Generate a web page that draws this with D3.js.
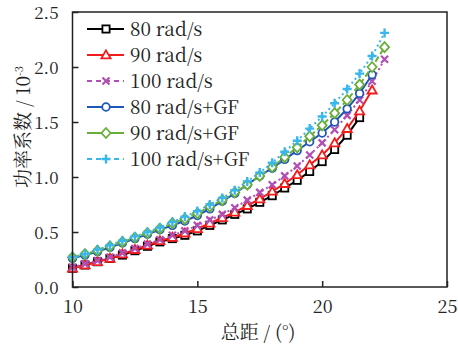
<!DOCTYPE html>
<html><head><meta charset="utf-8">
<script src="https://cdn.jsdelivr.net/npm/d3@7"></script>
<style>body{margin:0;background:#fff}svg{display:block}</style>
</head><body>
<svg id="c" width="458" height="345"></svg>
<script>
const xStart = 10, xStep = 0.5;
const seriesNames = ["80 rad/s","90 rad/s","100 rad/s","80 rad/s+GF","90 rad/s+GF","100 rad/s+GF"];
const s80 = [0.17,0.20,0.23,0.26,0.29,0.33,0.37,0.41,0.44,0.47,0.51,0.56,0.61,0.66,0.71,0.77,0.83,0.90,0.97,1.05,1.14,1.25,1.38,1.54];
const s90 = [0.17,0.20,0.23,0.26,0.30,0.34,0.38,0.42,0.45,0.49,0.53,0.58,0.63,0.68,0.74,0.80,0.87,0.94,1.02,1.11,1.20,1.31,1.44,1.60,1.79];
const s100 = [0.18,0.21,0.24,0.27,0.31,0.35,0.39,0.43,0.47,0.51,0.56,0.61,0.66,0.72,0.79,0.86,0.93,1.01,1.10,1.20,1.31,1.43,1.56,1.70,1.87,2.07];
const s80gf = [0.26,0.29,0.32,0.36,0.40,0.44,0.48,0.52,0.56,0.60,0.65,0.71,0.78,0.85,0.93,1.01,1.08,1.16,1.24,1.32,1.40,1.50,1.62,1.76,1.93];
const s90gf = [0.27,0.30,0.33,0.37,0.41,0.45,0.49,0.53,0.58,0.62,0.67,0.73,0.79,0.86,0.93,1.01,1.09,1.18,1.27,1.37,1.47,1.58,1.70,1.84,2.00,2.18];
const s100gf = [0.27,0.30,0.34,0.38,0.42,0.46,0.50,0.54,0.59,0.64,0.69,0.75,0.81,0.88,0.96,1.04,1.13,1.23,1.33,1.44,1.55,1.67,1.80,1.94,2.10,2.31];
const xTicks = [10,15,20,25];
const yTicks = [0.0,0.5,1.0,1.5,2.0,2.5];
const xLabel = "总距 / (°)";
const yLabel = "功率系数 / 10";

const allSeries = [s80,s90,s100,s80gf,s90gf,s100gf];
const colors = ["#000000","#f21c1c","#b04fb4","#1f57b8","#6aae3a","#39b6ec"];
const dashes = [null,null,"2,3",null,"6,3","2,3"];
const legendDash = [null,null,"5,4",null,null,"5,4"];
const markers = ["square","triangle","x","circle","diamond","plus"];

const SERIF = "Noto Serif CJK SC";
const CJK = "Noto Serif CJK SC";

const svg = d3.select("#c");
const L=72.5, R=447, T=12, B=287;
const x = d3.scaleLinear().domain([10,25]).range([L,R]);
const y = d3.scaleLinear().domain([0,2.5]).range([B,T]);

function drawMarker(g, type, cx, cy, col){
  const s=3.6;
  if(type==="square") g.append("rect").attr("x",cx-s).attr("y",cy-s).attr("width",2*s).attr("height",2*s).attr("fill","#fff").attr("stroke",col).attr("stroke-width",1.8);
  else if(type==="triangle") g.append("path").attr("d",`M${cx},${cy-4.6}L${cx+4.6},${cy+3.4}L${cx-4.6},${cy+3.4}Z`).attr("fill","#fff").attr("stroke",col).attr("stroke-width",1.8);
  else if(type==="circle") g.append("circle").attr("cx",cx).attr("cy",cy).attr("r",3.8).attr("fill","#fff").attr("stroke",col).attr("stroke-width",1.8);
  else if(type==="diamond") g.append("path").attr("d",`M${cx},${cy-5}L${cx+4.5},${cy}L${cx},${cy+5}L${cx-4.5},${cy}Z`).attr("fill","#fff").attr("stroke",col).attr("stroke-width",1.8);
  else if(type==="x") g.append("path").attr("d",`M${cx-3.5},${cy-3.5}L${cx+3.5},${cy+3.5}M${cx-3.5},${cy+3.5}L${cx+3.5},${cy-3.5}`).attr("stroke",col).attr("stroke-width",2.2);
  else if(type==="plus") g.append("path").attr("d",`M${cx-4.5},${cy}L${cx+4.5},${cy}M${cx},${cy-4.5}L${cx},${cy+4.5}`).attr("stroke",col).attr("stroke-width",2.4);
}

const line = d3.line().x((d,i)=>x(xStart+i*xStep)).y(d=>y(d));
allSeries.forEach((s,k)=>{
  const g = svg.append("g");
  g.append("path").attr("d",line(s)).attr("fill","none").attr("stroke",colors[k]).attr("stroke-width",2)
    .attr("stroke-dasharray",dashes[k]);
  s.forEach((v,i)=>drawMarker(g,markers[k],x(xStart+i*xStep),y(v),colors[k]));
});

// frame
svg.append("rect").attr("x",L).attr("y",T).attr("width",R-L).attr("height",B-T).attr("fill","none").attr("stroke","#222").attr("stroke-width",1.5);
const xa = svg.append("g").attr("transform",`translate(0,${B})`).call(d3.axisBottom(x).tickValues(xTicks).tickSize(-6).tickPadding(13).tickFormat(d3.format("d")));
const ya = svg.append("g").attr("transform",`translate(${L},0)`).call(d3.axisLeft(y).tickValues(yTicks).tickSize(-6).tickPadding(14).tickFormat(d3.format(".1f")));
xa.attr("font-size",18);
ya.attr("font-size",17);
[xa,ya].forEach(a=>{a.attr("font-family",SERIF);a.select(".domain").remove();a.selectAll("line").attr("stroke","#222").attr("stroke-width",1.5);
  a.selectAll("text").attr("fill","#222");});
ya.selectAll("text").attr("dy","0.4em");

// axis titles
svg.append("text").attr("x",258).attr("y",339).attr("text-anchor","middle").attr("font-family",CJK).attr("font-size",19).attr("fill","#222").text(xLabel);
const yt = svg.append("text").attr("transform","translate(30,127) rotate(-90)").attr("text-anchor","middle").attr("font-family",CJK).attr("font-size",19).attr("fill","#222");
yt.append("tspan").text(yLabel);
yt.append("tspan").attr("dy",-7).attr("font-size",11).text("-3");

// legend
seriesNames.forEach((n,k)=>{
  const ly = 29 + k*26;
  const g = svg.append("g");
  g.append("line").attr("x1",87).attr("x2",124).attr("y1",ly).attr("y2",ly).attr("stroke",colors[k]).attr("stroke-width",2).attr("stroke-dasharray",legendDash[k]);
  drawMarker(g,markers[k],106,ly,colors[k]);
  g.append("text").attr("x",130).attr("y",ly+6.5).attr("font-family",SERIF).attr("font-size",19).attr("fill","#222").text(n);
});
</script>
</body></html>
